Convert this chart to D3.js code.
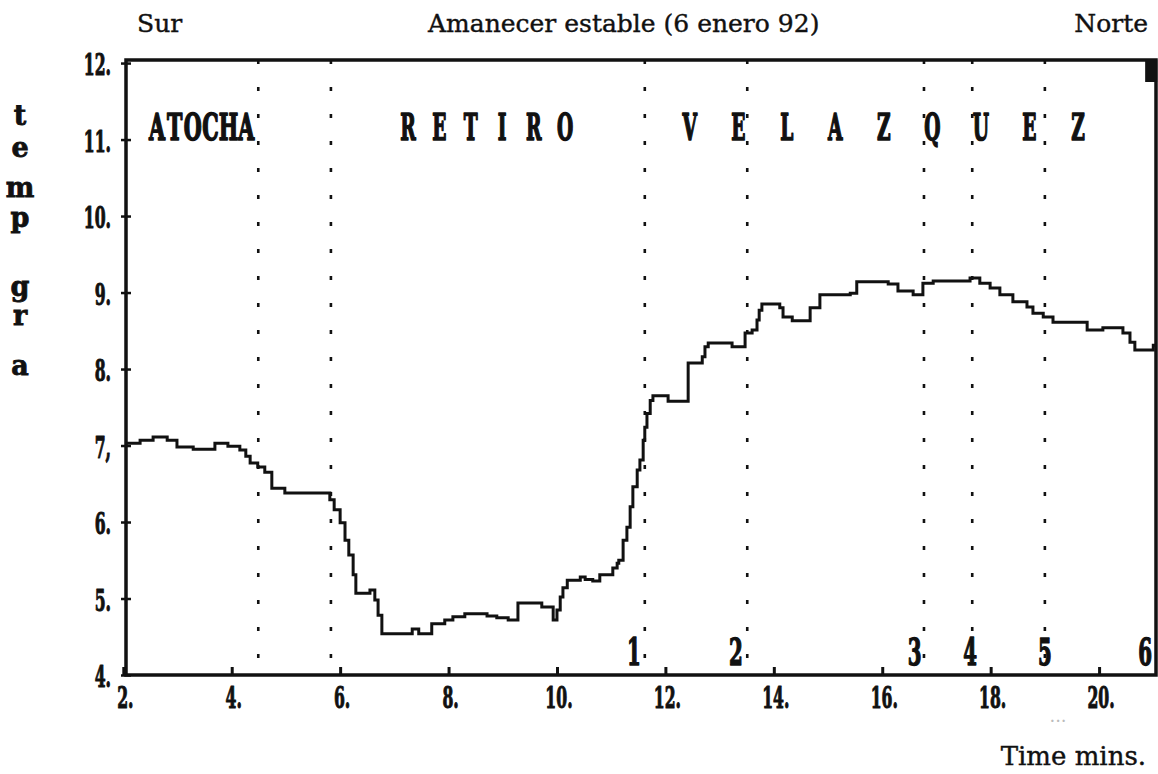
<!DOCTYPE html>
<html><head><meta charset="utf-8">
<script src="https://cdn.jsdelivr.net/npm/d3@7"></script>
<style>body{margin:0;background:#fff}svg{display:block}</style>
</head><body>
<svg id="c" width="1158" height="774"></svg>
<script>
// ---- data ----
const timeMins = [2.05,2.31,2.55,2.81,2.99,3.29,3.69,3.93,4.15,4.26,4.34,4.48,4.61,4.74,4.98,5.81,5.89,6.00,6.09,6.16,6.24,6.29,6.55,6.64,6.70,6.77,7.33,7.45,7.69,7.93,8.08,8.30,8.71,8.89,9.10,9.28,9.72,9.93,10.00,10.06,10.11,10.19,10.43,10.52,10.66,10.79,11.03,11.11,11.14,11.22,11.29,11.35,11.40,11.48,11.53,11.59,11.62,11.66,11.72,11.77,12.05,12.42,12.68,12.73,12.79,13.23,13.47,13.60,13.69,13.73,13.78,14.11,14.17,14.34,14.67,14.85,15.41,15.53,16.11,16.29,16.57,16.75,16.94,17.62,17.80,17.99,18.17,18.41,18.67,18.78,18.97,19.15,19.78,20.07,20.44,20.57,20.66,21.00,21.05];
const tempVals = [7.03,7.07,7.11,7.07,6.98,6.95,7.03,6.99,6.94,6.86,6.77,6.72,6.65,6.44,6.38,6.29,6.16,5.99,5.76,5.57,5.31,5.07,5.11,4.98,4.78,4.54,4.60,4.54,4.67,4.72,4.76,4.80,4.77,4.75,4.72,4.94,4.89,4.72,4.85,5.02,5.14,5.24,5.28,5.25,5.23,5.31,5.40,5.46,5.50,5.76,5.93,6.20,6.46,6.68,6.81,7.07,7.24,7.42,7.59,7.65,7.58,8.08,8.16,8.29,8.34,8.29,8.47,8.51,8.64,8.77,8.85,8.80,8.68,8.63,8.80,8.97,8.99,9.14,9.11,9.02,8.97,9.12,9.15,9.19,9.12,9.06,8.97,8.88,8.81,8.73,8.68,8.61,8.51,8.54,8.47,8.35,8.25,8.31,8.31];
const xTicks = [2,4,6,8,10,12,14,16,18,20];
const xTickLabels = ["2.","4.","6.","8.","10.","12.","14.","16.","18.","20."];
const yTicks = [4,5,6,7,8,9,10,11,12];
const yTickLabels = ["4.","5.","6.","7,","8.","9.","10.","11.","12."];
const eventTimes = [4.49,5.83,11.62,13.51,16.77,17.66,19.00];
const markerLabels = ["1","2","3","4","5","6"];
const markerTimes = [11.42,13.30,16.60,17.62,19.00,20.85];
const stations = ["ATOCHA","RETIRO","VELAZQUEZ"];
const stationStartTimes = [2.62,7.25,12.45];
const stationPitchMins = [0.33,0.58,0.895];
const topTitles = ["Sur","Amanecer estable (6 enero 92)","Norte"];
const yLabelLetters = ["t","e","m","p","g","r","a"];
const xTitle = "Time mins.";

// ---- layout ----
const svg = d3.select("#c");
const x = d3.scaleLinear().domain([2.05,21.05]).range([126,1156]);
const y = d3.scaleLinear().domain([4,12.04]).range([675,60]);
const INK = "#111";
const condFont = "'DejaVu Serif Condensed','DejaVu Serif',serif";

function sText(g, txt, px, py, size, sx, anchor, sw){
  return g.append("text").text(txt)
    .attr("transform",`translate(${px},${py}) scale(${sx},1)`)
    .attr("font-family",condFont).attr("font-weight","bold")
    .attr("font-size",size).attr("text-anchor",anchor||"middle").attr("fill",INK)
    .attr("stroke",INK).attr("stroke-width",sw||1).attr("stroke-linejoin","round");
}

// dotted event lines
svg.append("g").selectAll("line").data(eventTimes).join("line")
  .attr("x1",d=>x(d)).attr("x2",d=>x(d)).attr("y1",y(12.04)).attr("y2",y(4))
  .attr("stroke",INK).attr("stroke-width",2.6).attr("stroke-dasharray","4 23");

// frame
svg.append("rect").attr("x",x(2.05)).attr("y",y(12.04))
  .attr("width",x(21.05)-x(2.05)).attr("height",y(4)-y(12.04))
  .attr("fill","none").attr("stroke",INK).attr("stroke-width",3.5);
svg.append("rect").attr("x",x(20.85)).attr("y",y(12.04)).attr("width",12).attr("height",22).attr("fill",INK);

// left axis
const gl = svg.append("g").attr("transform",`translate(${x(2.05)},0)`)
  .call(d3.axisLeft(y).tickValues(yTicks).tickFormat(()=>"").tickSizeInner(5).tickSizeOuter(0));
gl.select(".domain").remove();
gl.selectAll("line").attr("stroke",INK).attr("stroke-width",2.5);
const gl2 = svg.append("g").attr("transform",`translate(${x(2.05)},0)`)
  .call(d3.axisRight(y).tickValues(yTicks).tickFormat(()=>"").tickSizeInner(5).tickSizeOuter(0));
gl2.select(".domain").remove();
gl2.selectAll("line").attr("stroke",INK).attr("stroke-width",2.5);
yTicks.forEach((v,i)=>sText(svg,yTickLabels[i],x(2.05)-15,y(v)+12,29,0.6,"end",1));

// bottom axis
const gb = svg.append("g").attr("transform",`translate(0,${y(4)})`)
  .call(d3.axisBottom(x).tickValues(xTicks).tickFormat(()=>"").tickSizeInner(-8).tickSizeOuter(0));
gb.select(".domain").remove();
gb.selectAll("line").attr("stroke",INK).attr("stroke-width",3);
xTicks.forEach((v,i)=>sText(svg,xTickLabels[i],x(v)+2,y(4)+33,29,0.6,"middle",1));

// data line
const pts = timeMins.map((t,i)=>({t,v:tempVals[i]}));
svg.append("path").datum(pts)
  .attr("d",d3.line().x(d=>x(d.t)).y(d=>y(d.v)).curve(d3.curveStepAfter))
  .attr("fill","none").attr("stroke",INK).attr("stroke-width",3).attr("stroke-linejoin","miter");

// station names
stations.forEach((name,si)=>{
  const pitch = x(stationStartTimes[si]+stationPitchMins[si]) - x(stationStartTimes[si]);
  name.split("").forEach((ch,ci)=>{
    sText(svg,ch,x(stationStartTimes[si])+ci*pitch,140,37,si===0?0.62:0.56,"middle",1.6);
  });
});

// event numbers
markerLabels.forEach((lab,i)=>sText(svg,lab,x(markerTimes[i]),665,38,0.58,"middle",1.4));

// titles
const serif = "'DejaVu Serif',serif";
const tpos = [[137,"start"],[428,"start"],[1148,"end"]];
topTitles.forEach((t,i)=>svg.append("text").text(t).attr("x",tpos[i][0]).attr("y",32)
  .attr("text-anchor",tpos[i][1]).attr("font-family",serif).attr("font-size",25)
  .attr("fill",INK).attr("stroke",INK).attr("stroke-width",0.4));
svg.append("text").text(xTitle).attr("x",1146).attr("y",765).attr("text-anchor","end")
  .attr("font-family",serif).attr("font-size",26).attr("fill",INK)
  .attr("stroke",INK).attr("stroke-width",0.4);

// vertical y label
const yl = [125,157,197,227,296,325,375];
yLabelLetters.forEach((ch,i)=>svg.append("text").text(ch).attr("x",20).attr("y",yl[i])
  .attr("text-anchor","middle").attr("font-family",serif).attr("font-weight","bold")
  .attr("font-size",27).attr("fill",INK).attr("stroke",INK).attr("stroke-width",0.8));

// faint print artefact
svg.append("text").text("...").attr("x",1058).attr("y",722).attr("text-anchor","middle")
  .attr("font-family",serif).attr("font-size",18).attr("fill","#bbb");
</script>
</body></html>
